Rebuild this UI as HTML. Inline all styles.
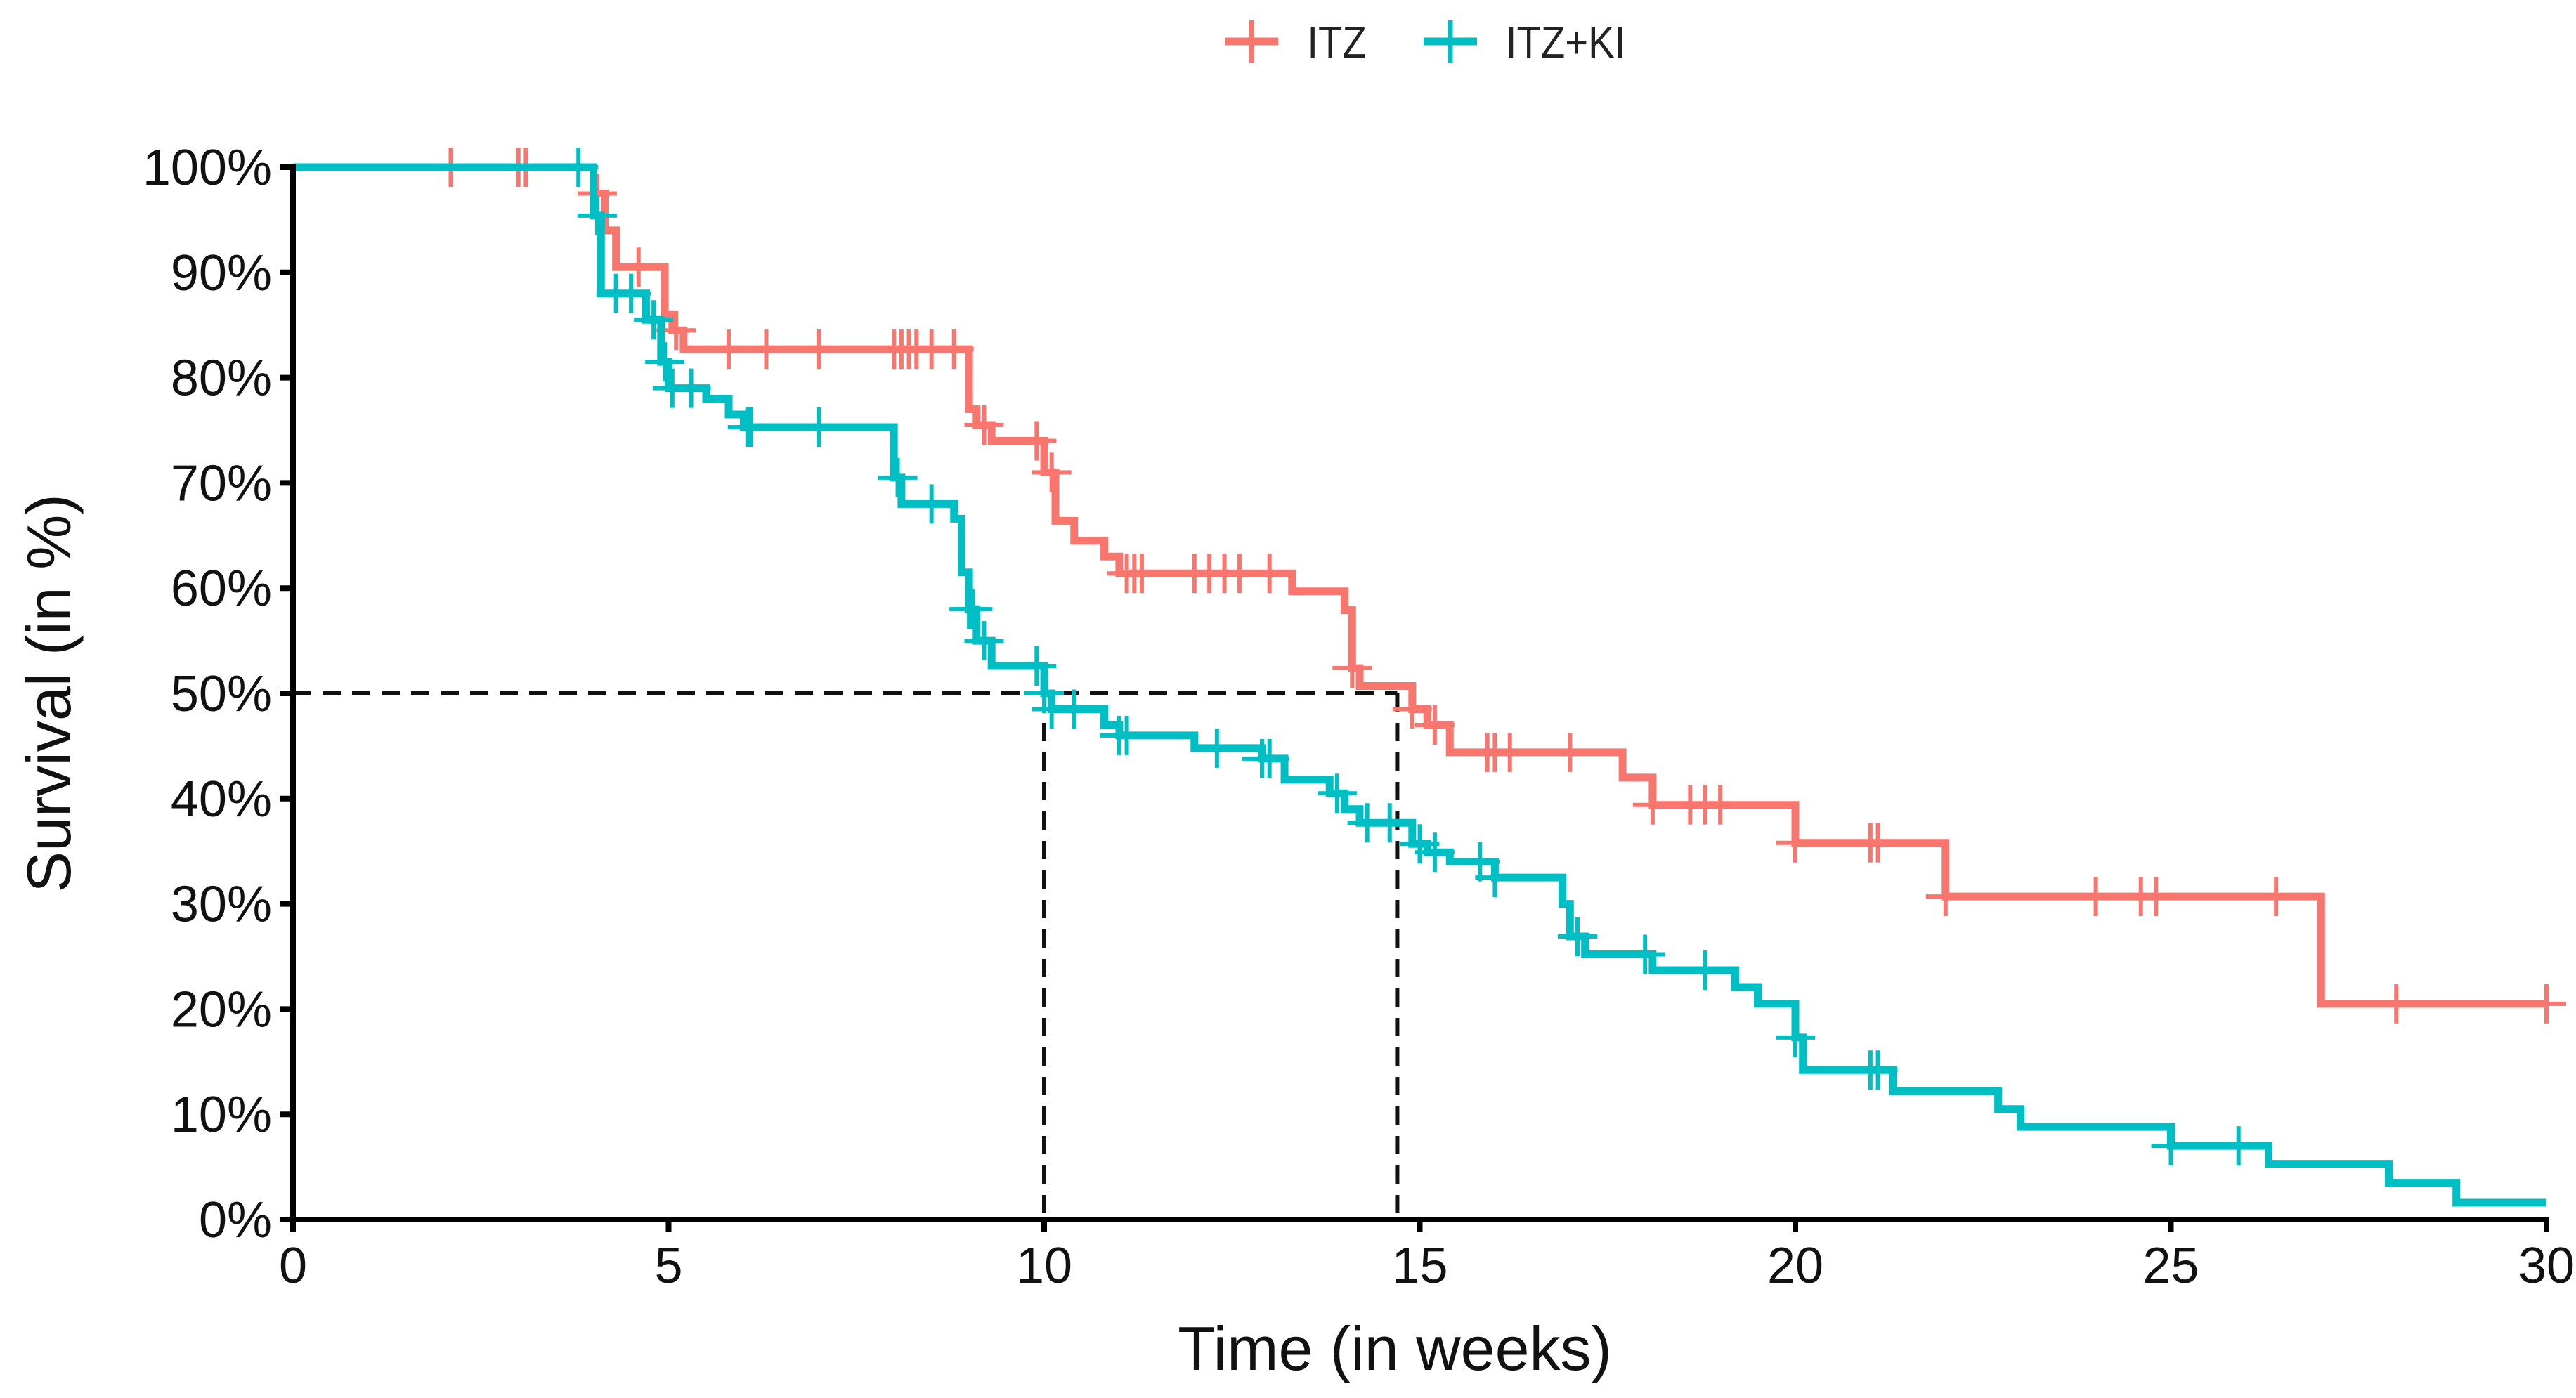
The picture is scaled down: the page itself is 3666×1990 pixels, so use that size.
<!DOCTYPE html>
<html><head><meta charset="utf-8"><style>
html,body{margin:0;padding:0;background:#fff;}
svg{display:block;font-family:"Liberation Sans",sans-serif;}
</style></head><body>
<svg id="chart" width="3666" height="1990" viewBox="0 0 3666 1990" xmlns="http://www.w3.org/2000/svg">
<rect width="3666" height="1990" fill="#fff"/>
<g id="legend">
 <g>
  <line x1="1743" y1="59" x2="1819" y2="59" stroke="#F8766D" stroke-width="11"/>
  <line x1="1781" y1="29" x2="1781" y2="89" stroke="#F8766D" stroke-width="7"/>
  <text x="1860" y="82" font-size="64" fill="#222" transform="scale(0.88,1) translate(254,0)">ITZ</text>
 </g>
 <g>
  <line x1="2026" y1="59" x2="2102" y2="59" stroke="#00BFC4" stroke-width="11"/>
  <line x1="2064" y1="29" x2="2064" y2="89" stroke="#00BFC4" stroke-width="7"/>
  <text x="2143" y="82" font-size="64" fill="#222" transform="scale(0.88,1) translate(292,0)">ITZ+KI</text>
 </g>
</g>
<g id="plot"></g>
<text x="0" y="0" font-size="88" fill="#111" text-anchor="middle" transform="translate(100,987) rotate(-90)">Survival (in %)</text>
<text x="1985" y="1950" font-size="88" fill="#111" text-anchor="middle">Time (in weeks)</text>
</svg>
<script>
const xTicks=[0,5,10,15,20,25,30];
const yTicks=[0,10,20,30,40,50,60,70,80,90,100];
const itzSteps=[[0,100],[4.0,97.5],[4.15,94],[4.3,90.5],[4.95,86],[5.05,84.5],[5.2,82.7],[9.0,77],[9.1,75.5],[9.3,74],[10.0,71],[10.15,66.4],[10.4,64.5],[10.8,63],[11.0,61.4],[13.3,59.7],[14.0,57.9],[14.1,52.4],[14.2,50.7],[14.9,48.5],[15.1,47],[15.4,44.4],[17.7,42],[18.1,39.4],[20.0,35.8],[22.0,30.7],[27.0,20.5],[30,20.5]];
const itzCensor=[2.1,3.0,3.1,4.05,4.6,5.1,5.8,6.3,7.0,8.0,8.1,8.2,8.3,8.5,8.8,9.2,9.9,10.1,11.1,11.2,11.3,12.0,12.2,12.4,12.6,13.0,14.1,14.9,15.2,15.9,16.0,16.2,17.0,18.1,18.6,18.8,19.0,20.0,21.0,21.1,22.0,24.0,24.6,24.8,26.4,28.0,30.0];
const kiSteps=[[0,100],[4.0,95.4],[4.1,88],[4.7,85.5],[4.9,81.5],[5.0,79],[5.5,78],[5.8,76.5],[6.0,75.3],[8.0,70.5],[8.1,68],[8.8,66.6],[8.9,61.5],[9.0,58],[9.1,55],[9.3,52.6],[10.0,50],[10.1,48.5],[10.8,47],[11.0,46],[12.0,44.8],[12.9,43.8],[13.2,41.8],[13.8,40.5],[14.0,39],[14.2,37.7],[14.9,35.7],[15.1,34.9],[15.4,34],[16.0,32.5],[16.9,30],[17.0,26.9],[17.2,25.2],[18.1,23.7],[19.2,22.1],[19.5,20.5],[20.0,17.3],[20.1,14.2],[21.3,12.2],[22.7,10.5],[23.0,8.8],[25.0,7],[26.3,5.3],[27.9,3.5],[28.8,1.6],[30,1.6]];
const kiCensor=[3.8,4.05,4.3,4.5,4.8,4.95,5.05,5.3,6.05,6.1,7.0,8.05,8.5,9.0,9.05,9.2,9.9,10.0,10.1,10.4,11.0,11.1,12.3,12.9,13.0,13.9,14.3,14.6,15.0,15.2,15.8,16.0,17.1,18.0,18.8,20.0,21.0,21.1,25.0,25.9];
const medians=[10.0,14.7];

const X0=417,X1=3624,Y0=1736,Y1=238;
const xs=t=>X0+(X1-X0)*t/30;
const ys=v=>Y0-(Y0-Y1)*v/100;
const NS="http://www.w3.org/2000/svg";
const plot=document.getElementById('plot');
function mk(tag,attrs,parent){const e=document.createElementNS(NS,tag);for(const k in attrs)e.setAttribute(k,attrs[k]);(parent||plot).appendChild(e);return e;}
function valAt(steps,t){let v=steps[0][1];for(const s of steps){if(s[0]<=t)v=s[1];}return v;}

let h=mk('line',{x1:xs(0),y1:ys(50),x2:xs(medians[1]),y2:ys(50),stroke:'#111','stroke-width':6,'stroke-dasharray':'26 16'});


medians.forEach((m,i)=>{
 const l=mk('line',{x1:xs(m),y1:ys(50),x2:xs(m),y2:ys(0),stroke:'#111','stroke-width':6,'stroke-dasharray':'26 16'});
 
 
});

function drawCurve(steps,censor,color,name){
 const g=mk('g',{});
 
 
 let d='M'+xs(steps[0][0])+','+ys(steps[0][1]);
 for(let i=1;i<steps.length;i++){d+=' H'+xs(steps[i][0])+' V'+ys(steps[i][1]);}
 const p=mk('path',{d:d,fill:'none',stroke:color,'stroke-width':11,'stroke-linejoin':'miter'},g);
 
 
 censor.forEach(t=>{
  const x=xs(t),y=ys(valAt(steps,t));
  const c=mk('path',{d:`M${x},${y-28} V${y+28} M${x-28},${y} H${x+28}`,stroke:color,'stroke-width':6},g);
  
  
 });
}
drawCurve(itzSteps,itzCensor,'#F8766D','itz');
drawCurve(kiSteps,kiCensor,'#00BFC4','itz-ki');

const ax=mk('path',{d:`M${X0},${Y1-4} V${Y0} H${X1+4}`,fill:'none',stroke:'#000','stroke-width':8});


yTicks.forEach(v=>{
 const y=ys(v);
 const t=mk('line',{x1:X0-18,y1:y,x2:X0,y2:y,stroke:'#000','stroke-width':8});
 
 
 const tx=mk('text',{x:X0-30,y:y+25,'font-size':72,'text-anchor':'end',fill:'#111'});
 tx.textContent=v+'%';
 
 
});
xTicks.forEach(v=>{
 const x=xs(v);
 const t=mk('line',{x1:x,y1:Y0,x2:x,y2:Y0+18,stroke:'#000','stroke-width':8});
 
 
 const tx=mk('text',{x:x,y:Y0+90,'font-size':72,'text-anchor':'middle',fill:'#111'});
 tx.textContent=v;
 
 
});
</script>
</body></html>
